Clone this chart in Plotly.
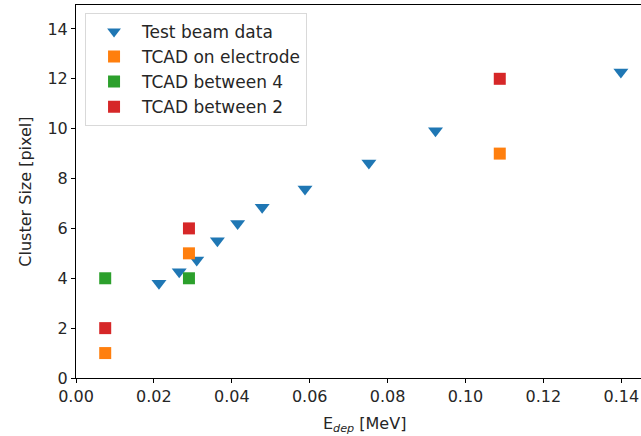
import plotly.graph_objects as go

# Test beam data
tb_x = [0.0213, 0.0265, 0.0310, 0.0363, 0.0415, 0.0478, 0.0588, 0.0752, 0.0923, 0.1399]
tb_y = [3.80, 4.26, 4.73, 5.50, 6.20, 6.85, 7.58, 8.62, 9.92, 12.27]

# TCAD simulations
tcad_x = [0.0075, 0.029, 0.1088]
tcad_electrode = [1, 5, 9]
tcad_between4 = [4, 4]
tcad_between4_x = [0.0075, 0.029]
tcad_between2 = [2, 6, 12]

x_ticks = [0.00, 0.02, 0.04, 0.06, 0.08, 0.10, 0.12, 0.14]
y_ticks = [0, 2, 4, 6, 8, 10, 12, 14]

font = dict(family="DejaVu Sans", size=16, color="#262626")
legend_font = dict(family="DejaVu Sans", size=17, color="#262626")

fig = go.Figure()
fig.add_trace(go.Scatter(x=tb_x, y=tb_y, mode="markers", name="Test beam data",
                         marker=dict(symbol="triangle-down", size=13, color="#1f77b4")))
fig.add_trace(go.Scatter(x=tcad_x, y=tcad_electrode, mode="markers", name="TCAD on electrode",
                         marker=dict(symbol="square", size=12, color="#ff7f0e")))
fig.add_trace(go.Scatter(x=tcad_between4_x, y=tcad_between4, mode="markers", name="TCAD between 4",
                         marker=dict(symbol="square", size=12, color="#2ca02c")))
fig.add_trace(go.Scatter(x=tcad_x, y=tcad_between2, mode="markers", name="TCAD between 2",
                         marker=dict(symbol="square", size=12, color="#d62728")))

axis_common = dict(showgrid=False, zeroline=False, showline=True, linecolor="black", linewidth=1,
                   ticks="outside", ticklen=4, tickcolor="black", tickfont=font, mirror=True)

fig.update_layout(
    width=641, height=436,
    margin=dict(l=76, r=0, t=5, b=58),
    plot_bgcolor="white", paper_bgcolor="white",
    font=font,
    showlegend=True,
    legend=dict(x=0.016, y=0.979, xanchor="left", yanchor="top",
                bgcolor="rgba(255,255,255,0.8)", bordercolor="#d9d9d9", borderwidth=1,
                font=legend_font, itemwidth=46, itemsizing="constant", tracegroupgap=2),
    xaxis=dict(range=[0, 0.14506], tickvals=x_ticks, tickformat=".2f", **axis_common),
    yaxis=dict(range=[0, 14.96], tickvals=y_ticks, **axis_common),
    annotations=[
        dict(text="E<sub><i>dep</i></sub> [MeV]", xref="paper", yref="paper",
             x=0.51, y=-0.125, xanchor="center", yanchor="middle", showarrow=False, font=font),
        dict(text="Cluster Size [pixel]", xref="paper", yref="paper",
             x=-0.09, y=0.5, xanchor="center", yanchor="middle", showarrow=False,
             textangle=-90, font=font),
    ],
)

fig.write_html("out.html")
